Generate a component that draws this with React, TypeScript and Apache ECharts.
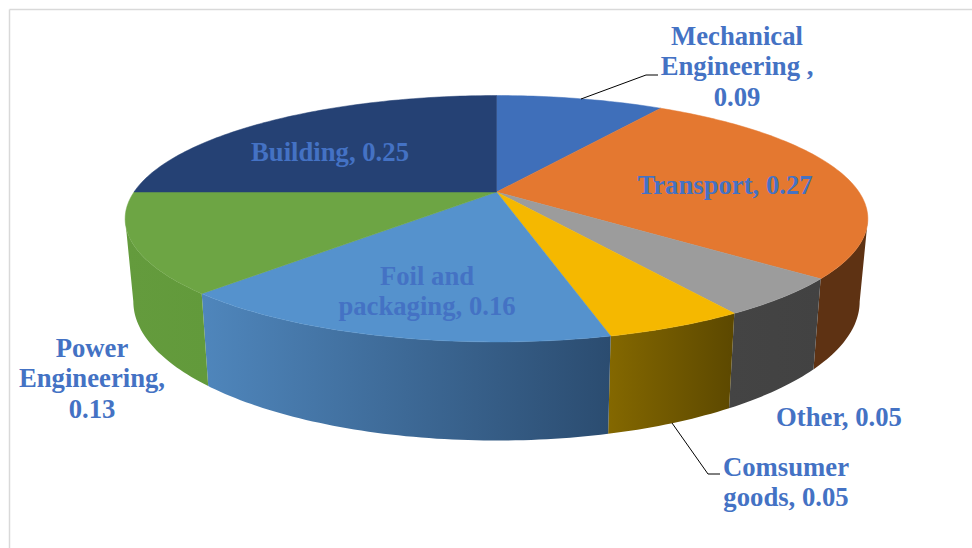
import React, { useEffect, useRef } from "react";
import * as echarts from "echarts";

const sliceNames = ["Mechanical Engineering", "Transport", "Other", "Comsumer goods", "Foil and packaging", "Power Engineering", "Building"];
const sliceValues = [0.09, 0.27, 0.05, 0.05, 0.16, 0.13, 0.25];
const topColors = ["#3f6fba", "#e47830", "#9c9c9c", "#f5b800", "#5592cd", "#6da544", "#254174"];
const wallLeftColors = ["#2c4a7c", "#5e3213", "#444444", "#846800", "#4f86bc", "#649b3d", "#18294c"];
const wallRightColors = ["#2c4a7c", "#5e3213", "#424242", "#5c4800", "#2b4c70", "#629a3b", "#18294c"];

// Label text lines per slice, in slice order; the last line carries the value.
const labelPrefixes = [
  ["Mechanical", "Engineering ,"],
  ["Transport, "],
  ["Other, "],
  ["Comsumer", "goods, "],
  ["Foil and", "packaging, "],
  ["Power", "Engineering,"],
  ["Building, "],
];
const labelAnchors = [
  [737, 66],
  [725, 185],
  [839, 417],
  [786, 482],
  [427, 291],
  [92, 378],
  [330, 152],
];
const leaderLines = [
  [[581, 99], [646, 75], [658, 75]],
  [[672, 423], [708, 474], [720, 474]],
];

// Perspective projection of the pie's top disc.
const CX = 496.5;
const CY = 192;
const RADIUS = 362.5;
const TILT = 117.4;
const PERSPECTIVE = 0.217;
// The lower disc is an affine image of the upper one.
const BASE_SCALE_X = 0.978;
const BASE_SCALE_Y = 1.129;
const BASE_OFFSET_Y = 54.5;

const DEG = Math.PI / 180;
const tangent = Math.acos(-PERSPECTIVE) / DEG;

function topPoint(deg: number): [number, number] {
  const s = Math.sin(deg * DEG);
  const c = Math.cos(deg * DEG);
  const w = 1 + PERSPECTIVE * c;
  return [CX + (RADIUS * s) / w, CY - (TILT * c) / w];
}

function basePoint(deg: number): [number, number] {
  const [x, y] = topPoint(deg);
  return [CX + BASE_SCALE_X * (x - CX), BASE_OFFSET_Y + BASE_SCALE_Y * y];
}

function arcAngles(from: number, to: number): number[] {
  const out: number[] = [];
  for (let a = from; a < to; a += 1) out.push(a);
  out.push(to);
  return out;
}

function renderSlice(params: any, api: any) {
  const i = params.dataIndex;
  let before = 0;
  for (let k = 0; k < i; k++) before += sliceValues[k];
  const start = before * 360;
  const end = (before + api.value(0)) * 360;
  const children: any[] = [];

  const wallFrom = Math.max(start, tangent);
  const wallTo = Math.min(end, 360 - tangent);
  if (wallFrom < wallTo) {
    const angles = arcAngles(wallFrom, wallTo);
    const points = [...angles.map(topPoint), ...angles.slice().reverse().map(basePoint)];
    children.push({
      type: "polygon",
      shape: { points },
      style: {
        fill: new echarts.graphic.LinearGradient(0, 0, 1, 0, [
          { offset: 0, color: wallLeftColors[i] },
          { offset: 1, color: wallRightColors[i] },
        ]),
        stroke: null,
      },
    });
  }

  const top = [[CX, CY], ...arcAngles(start, end).map(topPoint)];
  children.push({
    type: "polygon",
    shape: { points: top },
    style: { fill: topColors[i], stroke: topColors[i], lineWidth: 0.5 },
  });
  return { type: "group", children };
}

export default function App() {
  const ref = useRef<HTMLDivElement>(null);

  useEffect(() => {
    document.body.style.margin = "0";
    document.body.style.background = "#ffffff";
    const chart = echarts.init(ref.current!, undefined, { renderer: "svg" });

    const labels = sliceValues.map((v, i) => {
      const parts = labelPrefixes[i].slice();
      const value = v.toFixed(2);
      const last = parts[parts.length - 1];
      if (last.endsWith(" ")) parts[parts.length - 1] = last + value;
      else parts.push(value);
      return {
        type: "text",
        x: labelAnchors[i][0],
        y: labelAnchors[i][1],
        z: 10,
        style: {
          text: parts.join("\n"),
          font: 'bold 26.7px "Liberation Serif", "Times New Roman", serif',
          fill: "#4472c4",
          align: "center",
          verticalAlign: "middle",
          lineHeight: 30.5,
        },
      };
    });

    chart.setOption({
      animation: false,
      backgroundColor: "#ffffff",
      series: [
        {
          type: "custom",
          coordinateSystem: "none",
          renderItem: renderSlice,
          silent: true,
          data: sliceValues.map((v, i) => ({ name: sliceNames[i], value: [v] })),
        },
      ],
      graphic: [
        { type: "line", shape: { x1: 9.5, y1: 9.5, x2: 972, y2: 9.5 }, style: { stroke: "#d9d9d9", lineWidth: 1.5 } },
        { type: "line", shape: { x1: 9.5, y1: 9.5, x2: 9.5, y2: 548 }, style: { stroke: "#d9d9d9", lineWidth: 1.5 } },
        ...leaderLines.map((pts) => ({
          type: "polyline",
          z: 9,
          shape: { points: pts },
          style: { stroke: "#000000", lineWidth: 1, fill: null },
        })),
        ...labels,
      ],
    });
    return () => chart.dispose();
  }, []);

  return <div ref={ref} style={{ width: 972, height: 548 }} />;
}
